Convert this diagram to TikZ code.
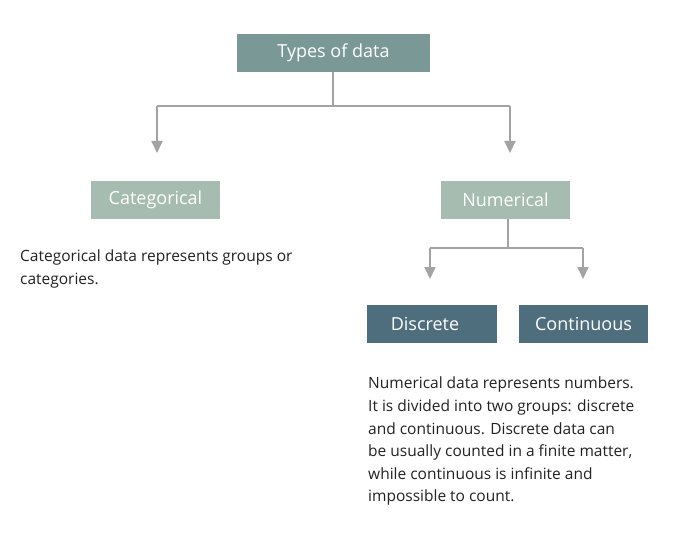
\documentclass[tikz,border=0pt]{standalone}
\usepackage{fontspec}
\setmainfont{Open Sans}
\usetikzlibrary{arrows.meta}
\definecolor{topc}{HTML}{7A9996}
\definecolor{midc}{HTML}{A7BCB0}
\definecolor{lowc}{HTML}{4F6E7D}
\definecolor{linec}{HTML}{A3A3A3}
\definecolor{txtc}{HTML}{222222}
\begin{document}
\begin{tikzpicture}[x=1bp,y=-1bp,
  box/.style={minimum width=#1, minimum height=38bp, inner sep=0pt, text=white, font=\fontsize{18bp}{20bp}\selectfont},
  conn/.style={draw=linec, line width=2bp},
  arr/.style={conn, -{Triangle[length=12bp,width=11bp]}},
  desc/.style={anchor=north west, align=left, inner sep=0pt, text=txtc, font=\fontsize{15.5bp}{22.6bp}\selectfont}]
\useasboundingbox (0,0) rectangle (680,547);
\node[box=193bp, fill=topc] (top) at (333.5,53) {Types of data};
\node[box=129bp, fill=midc] (cat) at (155.5,200) {Categorical};
\node[box=129bp, fill=midc] (num) at (505.5,200) {Numerical};
\node[box=130bp, fill=lowc] (dis) at (432,324) {\hspace*{-14bp}Discrete};
\node[box=129bp, fill=lowc] (con) at (583.5,324) {Continuous};
\coordinate (j1) at (333,106);
\coordinate (j1l) at (157,106);
\coordinate (j1r) at (510,106);
\coordinate (a1) at (157,153);
\coordinate (a2) at (510,153);
\draw[conn] (top.south -| j1) -- (j1);
\draw[conn] (j1l) -- (j1r);
\draw[arr] (j1l) -- (a1);
\draw[arr] (j1r) -- (a2);
\coordinate (j2) at (508,248);
\coordinate (j2l) at (430,248);
\coordinate (j2r) at (583,248);
\coordinate (b1) at (430,279);
\coordinate (b2) at (583,279);
\draw[conn] (num.south -| j2) -- (j2);
\draw[conn] (j2l) -- (j2r);
\draw[arr] (j2l) -- (b1);
\draw[arr] (j2r) -- (b2);
\node[desc] (cattxt) at (20,250) {Categorical data represents groups or\\categories.};
\node[desc] (numtxt) at (368,377) {Numerical data represents numbers.\\It is divided into two groups: discrete\\and continuous. Discrete data can\\be usually counted in a finite matter,\\while continuous is infinite and\\impossible to count.};
\end{tikzpicture}
\end{document}
